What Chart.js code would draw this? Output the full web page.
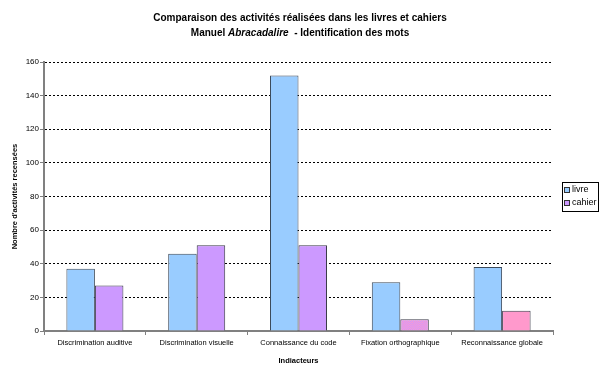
<!DOCTYPE html>
<html>
<head>
<meta charset="utf-8">
<script src="https://cdn.jsdelivr.net/npm/chart.js@4/dist/chart.umd.min.js"></script>
<style>
  html, body { margin: 0; padding: 0; background: #fff; }
  #wrap { width: 600px; height: 374px; position: relative; }
</style>
</head>
<body>
<div id="wrap"><canvas id="main-chart"></canvas></div>
<script>
const categories = [
    'Discrimination auditive',
    'Discrimination visuelle',
    'Connaissance du code',
    'Fixation orthographique',
    'Reconnaissance globale'
];
const livreValues = [37, 46, 152, 29, 38];
const cahierValues = [27, 51, 51, 7, 12];
const yTicks = [0, 20, 40, 60, 80, 100, 120, 140, 160];

const FONT = 'Arial, "Liberation Sans", sans-serif';
const LIVRE_COLOR = '#99CCFF';
const CAHIER_COLOR = '#CC99FF';

// checkered pink/purple fill used by one of the cahier bars
function makeChecker(a, b) {
    const c = document.createElement('canvas');
    c.width = 2; c.height = 2;
    const ctx = c.getContext('2d');
    ctx.fillStyle = a; ctx.fillRect(0, 0, 2, 2);
    ctx.fillStyle = b; ctx.fillRect(0, 0, 1, 1); ctx.fillRect(1, 1, 1, 1);
    return ctx.createPattern(c, 'repeat');
}

const cahierColors = [CAHIER_COLOR, CAHIER_COLOR, CAHIER_COLOR, makeChecker(CAHIER_COLOR, '#FF99CC'), '#FF99CC'];

// two-line title, second line with an italic word
const titlePlugin = {
    id: 'titleLines',
    afterDraw(chart) {
        const ctx = chart.ctx;
        ctx.save();
        ctx.fillStyle = '#000';
        ctx.textBaseline = 'middle';
        ctx.textAlign = 'center';
        const b = 'bold 10px ' + FONT, bi = 'italic bold 10px ' + FONT;
        const cx = 300;
        ctx.font = b;
        ctx.fillText('Comparaison des activités réalisées dans les livres et cahiers', cx, 18);
        const p1 = 'Manuel ', p2 = 'Abracadalire', p3 = '  - Identification des mots';
        const w1 = ctx.measureText(p1).width, w3 = ctx.measureText(p3).width;
        ctx.font = bi; const w2 = ctx.measureText(p2).width;
        let x = cx - (w1 + w2 + w3) / 2;
        ctx.textAlign = 'left';
        ctx.font = b; ctx.fillText(p1, x, 33); x += w1;
        ctx.font = bi; ctx.fillText(p2, x, 33); x += w2;
        ctx.font = b; ctx.fillText(p3, x, 33);
        ctx.restore();
    }
};

// boxed legend on the right, like the spreadsheet one
const boxLegend = {
    id: 'boxLegend',
    afterDraw(chart) {
        const ctx = chart.ctx;
        const left = chart.chartArea.right + 9;
        const top = 182;
        ctx.save();
        ctx.strokeStyle = '#000';
        ctx.lineWidth = 1;
        ctx.strokeRect(left + 0.5, top + 0.5, 36, 29);
        ctx.font = '9px ' + FONT;
        ctx.textBaseline = 'middle';
        ctx.textAlign = 'left';
        const swatch = [LIVRE_COLOR, CAHIER_COLOR];
        chart.data.datasets.forEach((ds, i) => {
            const y = top + 8 + i * 13;
            ctx.fillStyle = swatch[i];
            ctx.fillRect(left + 3, y - 2, 4, 4);
            ctx.strokeStyle = '#333';
            ctx.strokeRect(left + 2.5, y - 2.5, 5, 5);
            ctx.fillStyle = '#000';
            ctx.fillText(ds.label, left + 10, y);
        });
        ctx.restore();
    }
};

new Chart(document.getElementById('main-chart'), {
    type: 'bar',
    data: {
        labels: categories,
        datasets: [
            {
                label: 'livre',
                data: livreValues,
                backgroundColor: LIVRE_COLOR,
                borderColor: '#3c4a5a',
                borderWidth: 1,
                borderSkipped: 'bottom'
            },
            {
                label: 'cahier',
                data: cahierValues,
                backgroundColor: cahierColors,
                borderColor: '#3c3c4a',
                borderWidth: 1,
                borderSkipped: 'bottom'
            }
        ]
    },
    options: {
        responsive: true,
        maintainAspectRatio: false,
        animation: false,
        devicePixelRatio: 1,
        layout: { padding: { top: 62, left: 0, right: 47, bottom: 6 } },
        datasets: { bar: { categoryPercentage: 0.56, barPercentage: 1.0 } },
        scales: {
            x: {
                afterFit(scale) { scale.height = 37; },
                grid: {
                    display: true,
                    drawOnChartArea: false,
                    drawTicks: true,
                    tickLength: 4,
                    color: '#808080',
                    offset: true
                },
                border: { display: true, color: '#808080', width: 2 },
                ticks: {
                    color: '#000',
                    font: { family: FONT, size: 7.5 },
                    maxRotation: 0,
                    autoSkip: false,
                    padding: 3
                },
                title: {
                    display: true,
                    text: 'Indiacteurs',
                    color: '#000',
                    font: { family: FONT, size: 7.5, weight: 'bold' },
                    padding: { top: 0, bottom: 3 }
                }
            },
            y: {
                min: 0,
                max: 160,
                afterBuildTicks(scale) {
                    scale.ticks = yTicks.map(v => ({ value: v }));
                },
                afterFit(scale) { scale.width = 44; },
                grid: {
                    color: '#000',
                    lineWidth: 1,
                    tickLength: 4,
                    tickColor: '#808080',
                    tickBorderDash: [],
                    drawTicks: true
                },
                border: { display: true, color: '#808080', width: 2, dash: [2, 2] },
                ticks: {
                    color: '#000',
                    font: { family: FONT, size: 8 },
                    padding: 1
                },
                title: {
                    display: true,
                    text: "Nombre d'activités recensées",
                    color: '#000',
                    font: { family: FONT, size: 7.5, weight: 'bold' },
                    padding: { top: 10, bottom: 0 }
                }
            }
        },
        plugins: {
            title: { display: false },
            tooltip: { enabled: false },
            legend: { display: false }
        }
    },
    plugins: [titlePlugin, boxLegend]
});
</script>
</body>
</html>
